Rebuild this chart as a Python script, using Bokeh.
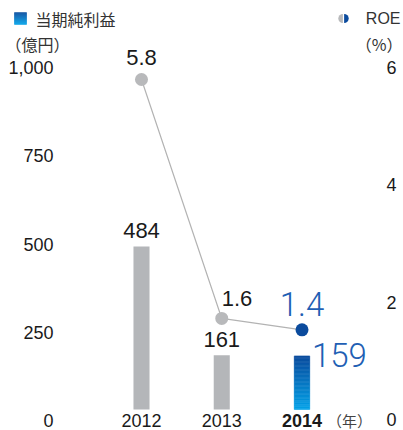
import numpy as np
from bokeh.plotting import figure
from bokeh.models import Range1d, ColumnDataSource
from bokeh.core.properties import value
from bokeh.embed import file_html
from bokeh.resources import INLINE

# ---------------- data ----------------
years = [2012, 2013, 2014]
year_labels = ["2012", "2013", "2014"]
net_income = [484, 161, 159]          # 当期純利益 (億円)
roe = [5.8, 1.6, 1.4]                 # ROE (%)
left_ticks = [0, 250, 500, 750, 1000]
right_ticks = [0, 2, 4, 6]
legend_income = "当期純利益"
legend_roe = "ROE"
unit_income = "（億円）"
unit_roe = "（%）"
year_unit = "（年）"

# ---------------- styles ----------------
SANS = "'Liberation Sans', Arial, sans-serif"
LIGHT = "'Roboto Light', 'Lato Light', Roboto, sans-serif"
CJK = "'Noto Sans CJK JP', 'Noto Sans', sans-serif"
GRAY_BAR = "#b4b6b9"
GRAY_DOT = "#b8b9bb"
BLUE_DOT = "#0b4b9d"
BLUE_TXT = "#1f5fb4"
TXT = "#1a1a1a"
HDR = "#333333"
C_TOP = np.array([11, 76, 158])
C_BOT = np.array([3, 162, 232])


def grad(n, a, b):
    out = []
    for i in range(n):
        t = (i + 0.5) / n
        c = a + (b - a) * t
        out.append("#%02x%02x%02x" % tuple(int(round(v)) for v in c))
    return out


W, H = 403, 430

p = figure(width=W, height=H, output_backend="svg", toolbar_location=None,
           x_range=Range1d(2010.243, 2015.2648),
           y_range=Range1d(-62.35, 1214.4),
           x_axis_location=None, y_axis_location=None,
           min_border=0, min_border_left=0, min_border_right=0,
           min_border_top=0, min_border_bottom=0)
p.outline_line_color = None
p.grid.visible = False

p.extra_y_ranges = {
    "roe": Range1d(-0.369, 7.188),        # ROE scale (6 % ~ 1000 億円)
    "lab_l": Range1d(-26.9, 1189.5),      # left tick-label scale
    "lab_r": Range1d(-0.1875, 7.142),     # right tick-label scale
    "px_y": Range1d(H, 0),                # header layout (pixels)
}
p.extra_x_ranges = {"px_x": Range1d(0, W)}

# ---- tick labels (left: 億円, right: %) ----
p.text(x=[53] * len(left_ticks), y=left_ticks, x_range_name="px_x",
       y_range_name="lab_l", text=["{:,}".format(t) for t in left_ticks],
       text_align="right", text_baseline="middle", text_font=value(SANS),
       text_font_size="18px", text_color=TXT)
p.text(x=[386] * len(right_ticks), y=right_ticks, x_range_name="px_x",
       y_range_name="lab_r", text=[str(t) for t in right_ticks],
       text_align="left", text_baseline="middle", text_font=value(SANS),
       text_font_size="18px", text_color=TXT)

# ---- bars ----
BW = 0.2
p.vbar(x=years[:2], top=net_income[:2], bottom=0, width=BW,
       fill_color=GRAY_BAR, line_color=None)
n = 40
edges = np.linspace(0, net_income[2], n + 1)
cols = grad(n, C_BOT, C_TOP)
p.vbar(x=[years[2]] * n, bottom=edges[:-1], top=edges[1:], width=BW * 0.96,
       fill_color=cols, line_color=cols, line_width=0.6)

p.text(x=years[:2], y=net_income[:2], text=[str(v) for v in net_income[:2]],
       text_align="center", text_baseline="middle", y_offset=-16,
       text_font=value(SANS), text_font_size="22px", text_color=TXT)
p.text(x=years[2:], y=net_income[2:], text=[str(v) for v in net_income[2:]],
       text_align="left", text_baseline="middle", x_offset=10, y_offset=-1,
       text_font=value(LIGHT), text_font_size="33px", text_color=BLUE_TXT)

# ---- ROE line + dots ----
p.line(x=years, y=roe, y_range_name="roe", line_color="#b3b3b3", line_width=1.2)
p.scatter(x=years[:2], y=roe[:2], y_range_name="roe", size=13,
          fill_color=GRAY_DOT, line_color=None)
p.scatter(x=years[2:], y=roe[2:], y_range_name="roe", size=13,
          fill_color=BLUE_DOT, line_color=None)

roe_src = ColumnDataSource(dict(x=years[:2], y=roe[:2],
                                t=["%.1f" % v for v in roe[:2]],
                                align=["center", "left"],
                                dy=[-22, -20]))
p.text(x="x", y="y", text="t", source=roe_src, y_range_name="roe",
       text_align="align", text_baseline="middle", y_offset="dy",
       text_font=value(SANS), text_font_size="22px", text_color=TXT)
p.text(x=years[2:], y=roe[2:], text=["%.1f" % v for v in roe[2:]],
       y_range_name="roe", text_align="center", text_baseline="middle",
       y_offset=-26, text_font=value(LIGHT), text_font_size="33px",
       text_color=BLUE_TXT)

# ---- year labels ----
p.text(x=years, y=[0] * len(years), text=year_labels,
       text_align="center", text_baseline="middle", y_offset=11,
       text_font=value(SANS), text_font_size="18px", text_color=TXT,
       text_font_style=["normal", "normal", "bold"])
p.text(x=years[2:], y=[0], text=[year_unit], text_align="left",
       text_baseline="middle", x_offset=25, y_offset=11,
       text_font=value(CJK), text_font_size="15px", text_color="#444444")

# ---- header: legend + units ----
ns = 12
sq_edges = np.linspace(12, 24, ns + 1)
sq_cols = grad(ns, C_TOP, C_BOT)
p.quad(left=[14] * ns, right=[26] * ns, top=sq_edges[:-1], bottom=sq_edges[1:],
       x_range_name="px_x", y_range_name="px_y",
       fill_color=sq_cols, line_color=sq_cols, line_width=0.5)
p.text(x=[35], y=[18], text=[legend_income], x_range_name="px_x",
       y_range_name="px_y", text_align="left", text_baseline="middle",
       text_font=value(CJK), text_font_size="16px", text_color=HDR)
p.text(x=[5], y=[43], text=[unit_income], x_range_name="px_x",
       y_range_name="px_y", text_align="left", text_baseline="middle",
       text_font=value(CJK), text_font_size="16px", text_color=HDR)
p.wedge(x=[342.4], y=[18], radius=4.6, start_angle=np.pi / 2,
        end_angle=3 * np.pi / 2, x_range_name="px_x", y_range_name="px_y",
        fill_color=GRAY_DOT, line_color=None)
p.wedge(x=[343.6], y=[18], radius=4.6, start_angle=-np.pi / 2,
        end_angle=np.pi / 2, x_range_name="px_x", y_range_name="px_y",
        fill_color=BLUE_DOT, line_color=None)
p.text(x=[400], y=[18], text=[legend_roe], x_range_name="px_x",
       y_range_name="px_y", text_align="right", text_baseline="middle",
       text_font=value(SANS), text_font_size="16px", text_color=HDR)
p.text(x=[402], y=[43], text=[unit_roe], x_range_name="px_x",
       y_range_name="px_y", text_align="right", text_baseline="middle",
       text_font=value(CJK), text_font_size="16px", text_color=HDR)

open("out.html", "w").write(file_html(p, INLINE))
